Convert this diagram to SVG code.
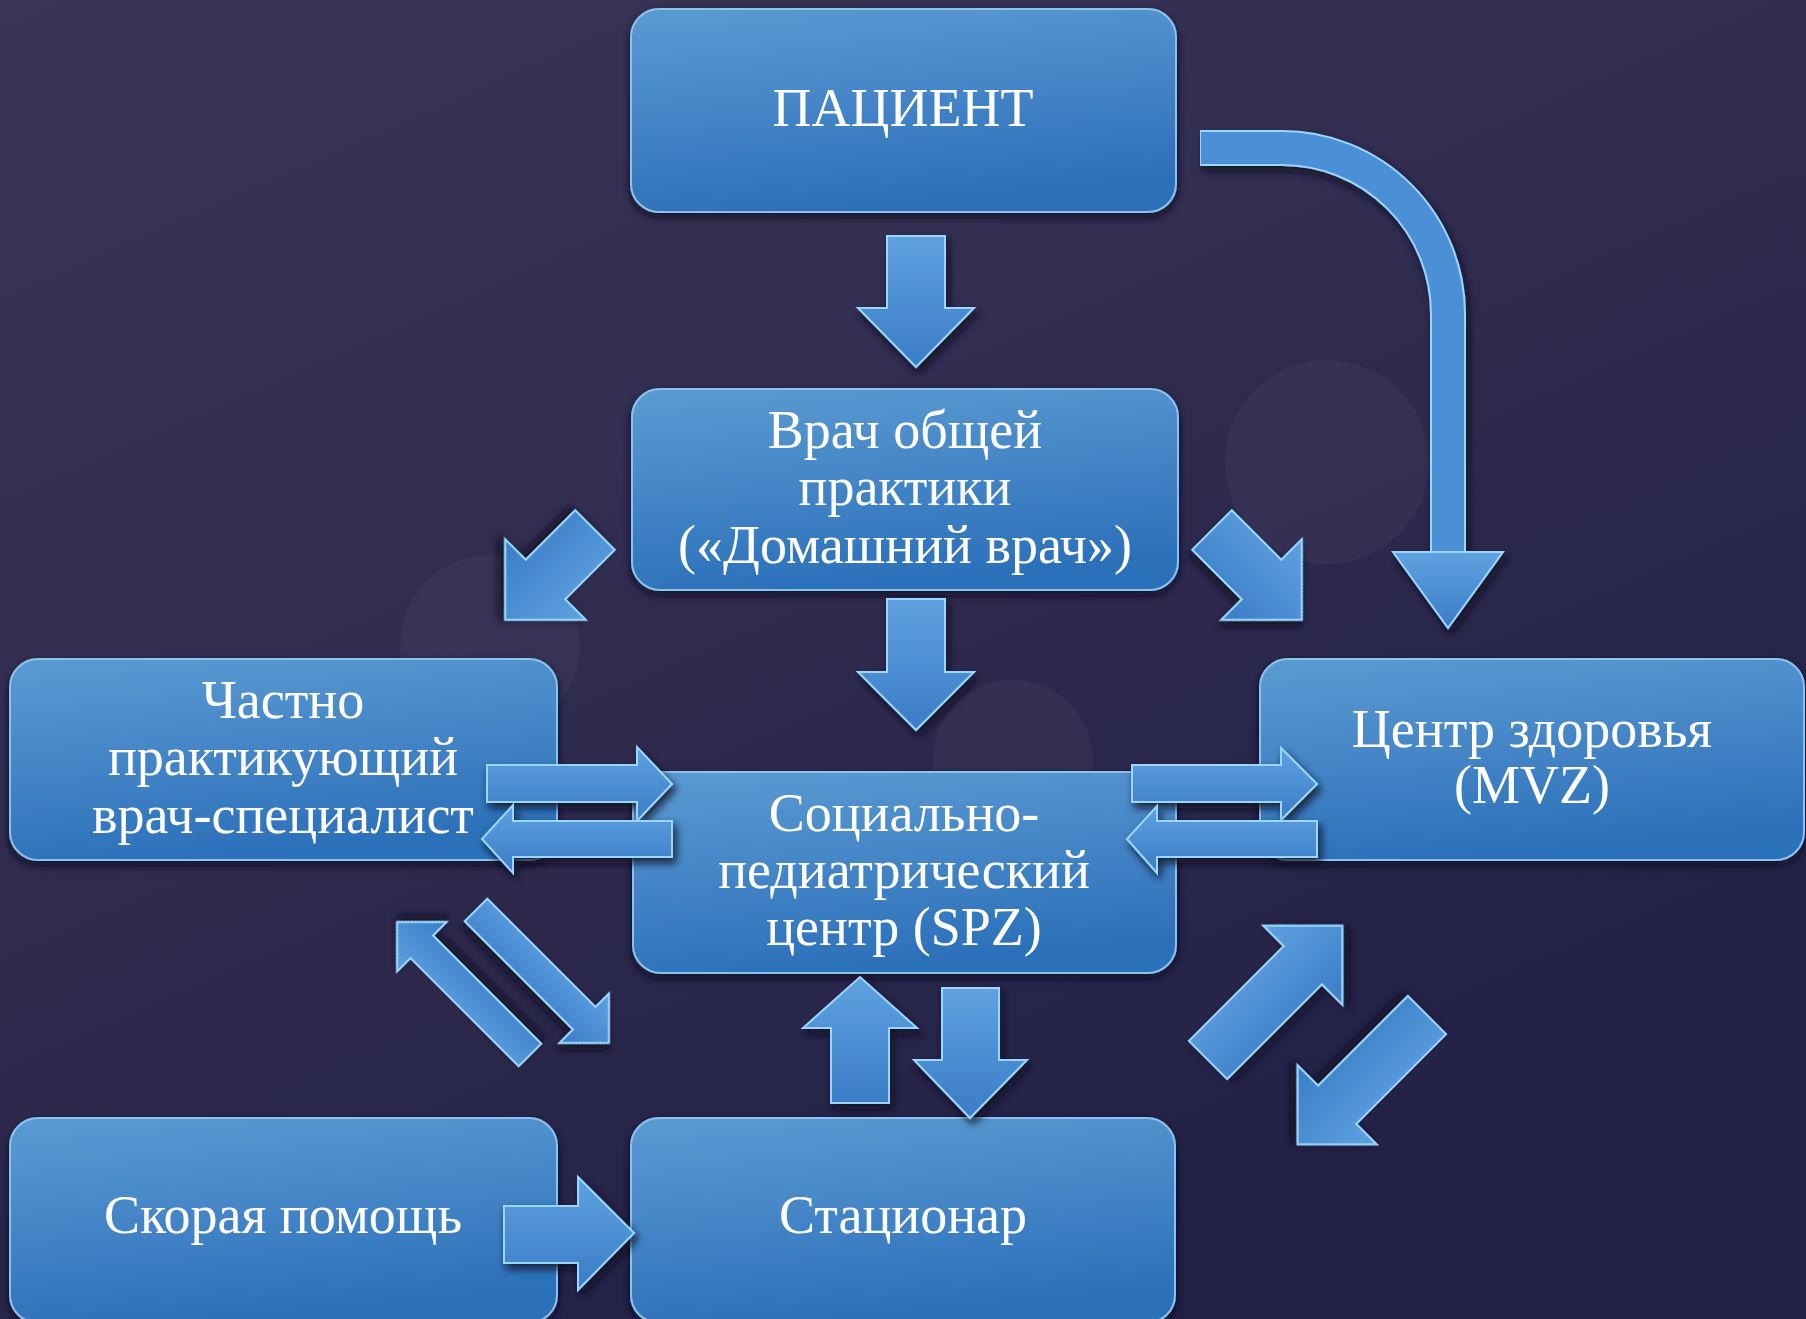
<svg xmlns="http://www.w3.org/2000/svg" width="1806" height="1319" viewBox="0 0 1806 1319">
<defs>
  <linearGradient id="bg" x1="0" y1="0" x2="0.6" y2="1">
    <stop offset="0" stop-color="#3b3657"/>
    <stop offset="0.5" stop-color="#302c50"/>
    <stop offset="1" stop-color="#222046"/>
  </linearGradient>
  <linearGradient id="boxFill" x1="0" y1="0" x2="0.25" y2="1">
    <stop offset="0" stop-color="#5b9bd2"/>
    <stop offset="0.55" stop-color="#4384c6"/>
    <stop offset="1" stop-color="#2c71ba"/>
  </linearGradient>
  <linearGradient id="arrFill" x1="0" y1="0" x2="0" y2="1">
    <stop offset="0" stop-color="#5fa2e0"/>
    <stop offset="1" stop-color="#3a7cc6"/>
  </linearGradient>
  <filter id="boxShadow" x="-10%" y="-10%" width="120%" height="125%">
    <feDropShadow dx="0" dy="4" stdDeviation="4" flood-color="#0b0b22" flood-opacity="0.9"/>
  </filter>
  <filter id="arrShadow" x="-20%" y="-20%" width="140%" height="140%">
    <feDropShadow dx="3" dy="5" stdDeviation="4" flood-color="#0b0b22" flood-opacity="0.85"/>
  </filter>
  <style>
    .box { fill: url(#boxFill); stroke: #8cc3ee; stroke-width: 2; filter: url(#boxShadow); }
    .lbl { font-family: "Liberation Serif", "DejaVu Serif", serif; font-size: 54px; fill: #ffffff; text-anchor: middle; }
    .arr { fill: url(#arrFill); stroke: #9ad6ff; stroke-width: 2; stroke-linejoin: miter; filter: url(#arrShadow); }
    .bokeh { fill: #ffffff; opacity: 0.035; }
  </style>
</defs>

<rect x="0" y="0" width="1806" height="1319" fill="url(#bg)"/>
<circle class="bokeh" cx="1327" cy="462" r="102"/>
<circle class="bokeh" cx="490" cy="645" r="90"/>
<circle class="bokeh" cx="1013" cy="760" r="80"/>

<g id="node-patient">
  <rect class="box" x="631" y="9" width="545" height="203" rx="28"/>
  <text class="lbl" x="903" y="126">ПАЦИЕНТ</text>
</g>
<g id="node-gp">
  <rect class="box" x="632" y="389" width="546" height="201" rx="28"/>
  <text class="lbl" x="905" y="448">Врач общей</text>
  <text class="lbl" x="905" y="505">практики</text>
  <text class="lbl" x="905" y="563">(«Домашний врач»)</text>
</g>
<g id="node-specialist">
  <rect class="box" x="10" y="659" width="547" height="201" rx="28"/>
  <text class="lbl" x="283" y="718">Частно</text>
  <text class="lbl" x="283" y="775">практикующий</text>
  <text class="lbl" x="283" y="833">врач-специалист</text>
</g>
<g id="node-mvz">
  <rect class="box" x="1260" y="659" width="544" height="201" rx="28"/>
  <text class="lbl" x="1532" y="747">Центр здоровья</text>
  <text class="lbl" x="1532" y="803">(MVZ)</text>
</g>
<g id="node-spz">
  <rect class="box" x="633" y="772" width="543" height="201" rx="28"/>
  <text class="lbl" x="904" y="831">Социально-</text>
  <text class="lbl" x="904" y="888">педиатрический</text>
  <text class="lbl" x="904" y="945">центр (SPZ)</text>
</g>
<g id="node-ambulance">
  <rect class="box" x="10" y="1118" width="547" height="205" rx="28"/>
  <text class="lbl" x="283" y="1233">Скорая помощь</text>
</g>
<g id="node-hospital">
  <rect class="box" x="631" y="1118" width="544" height="205" rx="28"/>
  <text class="lbl" x="903" y="1233">Стационар</text>
</g>

<g id="connectors">
  <!-- Patient -> GP -->
  <polygon class="arr" points="887,236 945,236 945,308 974,308 916,367 858,308 887,308"/>
  <!-- Patient -> MVZ (curved) -->
  <g filter="url(#arrShadow)">
    <path d="M1200,148 H1282 A166,166 0 0 1 1448,314 V555" fill="none" stroke="#9ad6ff" stroke-width="36"/>
    <path d="M1201,148 H1282 A166,166 0 0 1 1448,314 V556" fill="none" stroke="#4b8fd6" stroke-width="32"/>
    <polygon points="1393,552 1503,552 1448,628" fill="url(#arrFill)" stroke="#9ad6ff" stroke-width="2"/>
  </g>
  <!-- GP -> Specialist -->
  <polygon class="arr" transform="translate(595,530) rotate(135)" points="0,-28 70,-28 70,-57 127,0 70,57 70,28 0,28"/>
  <!-- GP -> MVZ -->
  <polygon class="arr" transform="translate(1212,530) rotate(45)" points="0,-28 70,-28 70,-57 127,0 70,57 70,28 0,28"/>
  <!-- GP -> SPZ -->
  <polygon class="arr" points="887,599 945,599 945,672 974,672 916,730 858,672 887,672"/>
  <!-- Specialist <-> SPZ -->
  <polygon class="arr" points="487,765 637,765 637,747 672,784 637,821 637,802 487,802"/>
  <polygon class="arr" points="672,821 513,821 513,805 482,839 513,873 513,857 672,857"/>
  <!-- SPZ <-> MVZ -->
  <polygon class="arr" points="1132,765 1281,765 1281,748 1317,784 1281,820 1281,802 1132,802"/>
  <polygon class="arr" points="1317,821 1157,821 1157,806 1127,839 1157,873 1157,857 1317,857"/>
  <!-- Specialist <-> Hospital -->
  <polygon class="arr" transform="translate(530,1055) rotate(-135)" points="0,-16 153,-16 153,-35 188,0 153,35 153,16 0,16"/>
  <polygon class="arr" transform="translate(476,910) rotate(45)" points="0,-16 153,-16 153,-35 188,0 153,35 153,16 0,16"/>
  <!-- Hospital <-> SPZ -->
  <polygon class="arr" points="831,1103 831,1028 803,1028 860,977 917,1028 889,1028 889,1103"/>
  <polygon class="arr" points="942,988 999,988 999,1060 1027,1060 970,1118 914,1060 942,1060"/>
  <!-- Hospital <-> MVZ -->
  <polygon class="arr" transform="translate(1208,1060) rotate(-45)" points="0,-27 134,-27 134,-56 190,0 134,56 134,27 0,27"/>
  <polygon class="arr" transform="translate(1427,1015) rotate(135)" points="0,-27 127,-27 127,-56 183,0 127,56 127,27 0,27"/>
  <!-- Ambulance -> Hospital -->
  <polygon class="arr" points="504,1206 578,1206 578,1177 634,1233 578,1290 578,1263 504,1263"/>
</g>
</svg>
